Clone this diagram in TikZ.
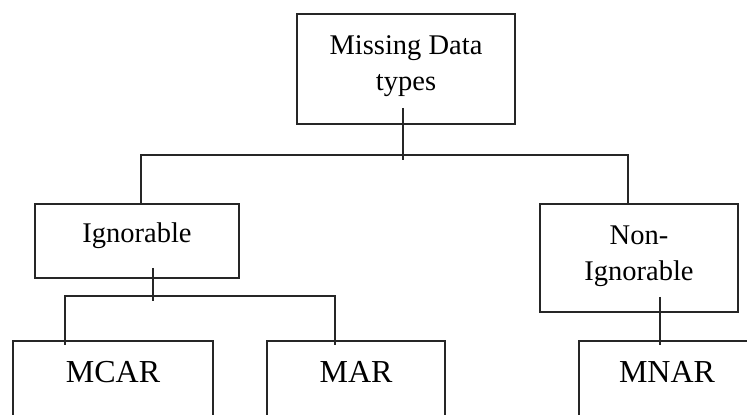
\documentclass[tikz,border=0pt]{standalone}
\usepackage{fontspec}
\setmainfont{Liberation Serif}
\usetikzlibrary{positioning}

\begin{document}
\begin{tikzpicture}[x=0.5pt,y=-0.5pt]
    \tikzstyle{box}=[rectangle,
                     draw=black!85,
                     line width=1pt,
                     align=center,
                     inner sep=0pt,
                     font=\fontsize{14.25}{18}\selectfont,
                     text=black]
    \tikzstyle{leaf}=[box,
                      anchor=north,
                      minimum height=45pt,
                      text height=11pt,
                      text depth=14pt,
                      font=\fontsize{16}{19}\selectfont]
    \tikzset{edgestyle/.style={-, line width=1pt, draw=black!85}}

    \useasboundingbox (0,0) rectangle (747,415);
    \clip (0,0) rectangle (747,415);

    \node[box, minimum width=109pt, minimum height=55pt,
          text height=28pt, text depth=6.5pt] (a) at (406,69) {Missing Data\\types};
    \node[box, minimum width=102pt, minimum height=37pt,
          text height=10pt, text depth=8pt]   (b) at (137,241) {Ignorable};
    \node[box, minimum width=99pt, minimum height=54pt,
          text height=28pt, text depth=5.3pt] (c) at (639,258) {Non-\\Ignorable};
    \node[leaf, minimum width=100pt] (d) at (113,340) {MCAR};
    \node[leaf, minimum width=89pt]  (e) at (356,340) {MAR};
    \node[leaf, minimum width=88pt]  (f) at (667,340) {MNAR};

    \coordinate (t1) at (403,108);
    \coordinate (t2) at (403,160);
    \coordinate (j)  at (403,155);
    \coordinate (s1) at (153,268);
    \coordinate (s2) at (153,301);
    \coordinate (k)  at (153,296);
    \coordinate (n1) at (660,297);

    \path (t1) edge [edgestyle] (t2)
          (s1) edge [edgestyle] (s2)
          (n1) edge [edgestyle] ([xshift=-3.5pt,yshift=-2.5pt]f.north);
    \draw[edgestyle] ([xshift=2pt]b.north) |- (j) -| ([xshift=-5.5pt]c.north);
    \draw[edgestyle] ([xshift=-24pt,yshift=-2.5pt]d.north) |- (k)
                     -| ([xshift=-10.5pt,yshift=-2.5pt]e.north);
\end{tikzpicture}
\end{document}
